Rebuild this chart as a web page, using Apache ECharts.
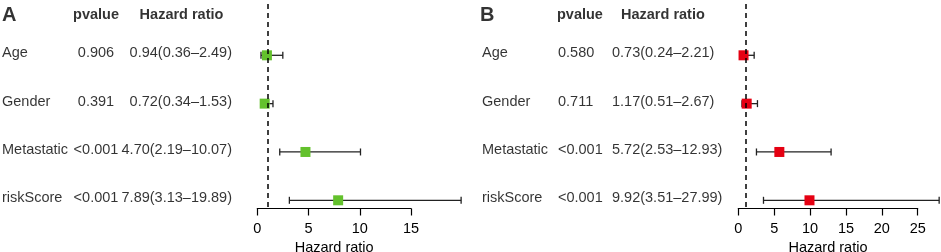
<!DOCTYPE html>
<html>
<head>
<meta charset="utf-8">
<script src="https://cdn.jsdelivr.net/npm/echarts@6/dist/echarts.min.js"></script>
<style>
  html, body { margin: 0; padding: 0; background: #fff; }
  #main { width: 941px; height: 252px; }
</style>
</head>
<body>
<div id="main"></div>
<script>
// 数据
var factors = ["Age", "Gender", "Metastatic", "riskScore"];
var rows = [4, 3, 2, 1];

var pvalA = ["0.906", "0.391", "<0.001", "<0.001"];
var hrA = [0.94, 0.72, 4.70, 7.89];
var lowA = [0.36, 0.34, 2.19, 3.13];
var highA = [2.49, 1.53, 10.07, 19.89];

var pvalB = ["0.580", "0.711", "<0.001", "<0.001"];
var hrB = [0.73, 1.17, 5.72, 9.92];
var lowB = [0.24, 0.51, 2.53, 3.51];
var highB = [2.21, 2.67, 12.93, 27.99];

var ticksA = { min: 0, max: 15, interval: 5 };
var ticksB = { min: 0, max: 25, interval: 5 };

// 布局
var font = "Liberation Sans, Arial, sans-serif";
var fs = 14.5;
var plotH = 207;
var unit = 48.33;
var yMax = 4 + 55.3 / unit;
var yMin = 1 - (plotH - 200.3) / unit;
var headerY = yMax - 17 / unit;
var pxA = 10.247, zeroA = 257.3;
var pxB = 7.176, zeroB = 738.3;

function fmtHR(h, l, u) {
  return h.toFixed(2) + "(" + l.toFixed(2) + "\u2013" + u.toFixed(2) + ")";
}

function txt(text, x, y, pos, bold, size) {
  return {
    name: text,
    value: [x, y],
    label: {
      show: true,
      position: pos,
      distance: 0,
      offset: [0, -2],
      formatter: "{b}",
      fontFamily: font,
      fontSize: size || fs,
      fontWeight: bold ? "bold" : "normal",
      color: "#000"
    }
  };
}

var tableData = [];
tableData.push(txt("A", 2, headerY, "right", true, 20));
tableData.push(txt("pvalue", 96, headerY, "inside", true));
tableData.push(txt("Hazard ratio", 181.5, headerY, "inside", true));
tableData.push(txt("B", 480, headerY, "right", true, 20));
tableData.push(txt("pvalue", 557, headerY, "right", true));
tableData.push(txt("Hazard ratio", 621, headerY, "right", true));
for (var i = 0; i < factors.length; i++) {
  tableData.push(txt(factors[i], 2, rows[i], "right"));
  tableData.push(txt(pvalA[i], 96, rows[i], "inside"));
  tableData.push(txt(fmtHR(hrA[i], lowA[i], highA[i]), 232, rows[i], "left"));
  tableData.push(txt(factors[i], 482, rows[i], "right"));
  tableData.push(txt(pvalB[i], 558, rows[i], "right"));
  tableData.push(txt(fmtHR(hrB[i], lowB[i], highB[i]), 612, rows[i], "right"));
}

function renderCI(params, api) {
  var y = api.value(2);
  var a = api.coord([api.value(0), y]);
  var b = api.coord([api.value(1), y]);
  var style = { stroke: "#222", lineWidth: 1.3 };
  return {
    type: "group",
    children: [
      { type: "line", shape: { x1: a[0], y1: a[1], x2: b[0], y2: b[1] }, style: style },
      { type: "line", shape: { x1: a[0], y1: a[1] - 3.5, x2: a[0], y2: a[1] + 3.5 }, style: style },
      { type: "line", shape: { x1: b[0], y1: b[1] - 3.5, x2: b[0], y2: b[1] + 3.5 }, style: style }
    ]
  };
}

function ciData(low, high) {
  return low.map(function (l, i) { return [l, high[i], rows[i]]; });
}
function pointData(hr) {
  return hr.map(function (h, i) { return [h, rows[i]]; });
}

function makeGrid(left, width, height) {
  return {
    left: left, top: 0, width: width, height: height,
    containLabel: false, outerBoundsMode: "none"
  };
}
function hiddenY(idx) {
  return { gridIndex: idx, type: "value", min: yMin, max: yMax, show: false };
}
function hiddenX(idx, min, max) {
  return { gridIndex: idx, type: "value", min: min, max: max, show: false };
}
function shownX(idx, t) {
  return {
    gridIndex: idx,
    type: "value",
    min: t.min,
    max: t.max,
    interval: t.interval,
    name: "Hazard ratio",
    nameLocation: "middle",
    nameGap: 28,
    nameTextStyle: { fontFamily: font, fontSize: fs, color: "#000" },
    axisLine: { show: true, onZero: false, lineStyle: { color: "#000", width: 1.2 } },
    axisTick: { show: true, length: 7, lineStyle: { color: "#000", width: 1.2 } },
    axisLabel: { fontFamily: font, fontSize: fs, color: "#000", margin: 12.5 },
    splitLine: { show: false }
  };
}

var refLine = {
  silent: true,
  symbol: "none",
  label: { show: false },
  lineStyle: { color: "#000", width: 1.5, type: [5, 4] },
  data: [{ xAxis: 1 }]
};

var chart = echarts.init(document.getElementById("main"), null, { renderer: "canvas" });
chart.setOption({
  animation: false,
  backgroundColor: "#fff",
  grid: [
    makeGrid(0, 941, plotH),
    makeGrid(zeroA, 20 * pxA, plotH),
    makeGrid(zeroA, 15 * pxA, 208.5),
    makeGrid(zeroB, 28 * pxB, plotH),
    makeGrid(zeroB, 25 * pxB, 208.5)
  ],
  xAxis: [
    hiddenX(0, 0, 941),
    hiddenX(1, 0, 20),
    shownX(2, ticksA),
    hiddenX(3, 0, 28),
    shownX(4, ticksB)
  ],
  yAxis: [hiddenY(0), hiddenY(1), hiddenY(2), hiddenY(3), hiddenY(4)],
  series: [
    {
      type: "scatter", xAxisIndex: 0, yAxisIndex: 0,
      symbolSize: 0, silent: true, data: tableData
    },
    {
      type: "custom", xAxisIndex: 1, yAxisIndex: 1,
      renderItem: renderCI, encode: { x: [0, 1], y: 2 },
      data: ciData(lowA, highA), markLine: refLine, z: 2
    },
    {
      type: "scatter", xAxisIndex: 1, yAxisIndex: 1,
      symbol: "rect", symbolSize: 10, itemStyle: { color: "#63c12c", opacity: 1 },
      data: pointData(hrA), z: 3
    },
    { type: "scatter", xAxisIndex: 2, yAxisIndex: 2, data: [] },
    {
      type: "custom", xAxisIndex: 3, yAxisIndex: 3,
      renderItem: renderCI, encode: { x: [0, 1], y: 2 },
      data: ciData(lowB, highB), markLine: refLine, z: 2
    },
    {
      type: "scatter", xAxisIndex: 3, yAxisIndex: 3,
      symbol: "rect", symbolSize: 10, itemStyle: { color: "#e50012", opacity: 1 },
      data: pointData(hrB), z: 3
    },
    { type: "scatter", xAxisIndex: 4, yAxisIndex: 4, data: [] }
  ]
});
</script>
</body>
</html>
